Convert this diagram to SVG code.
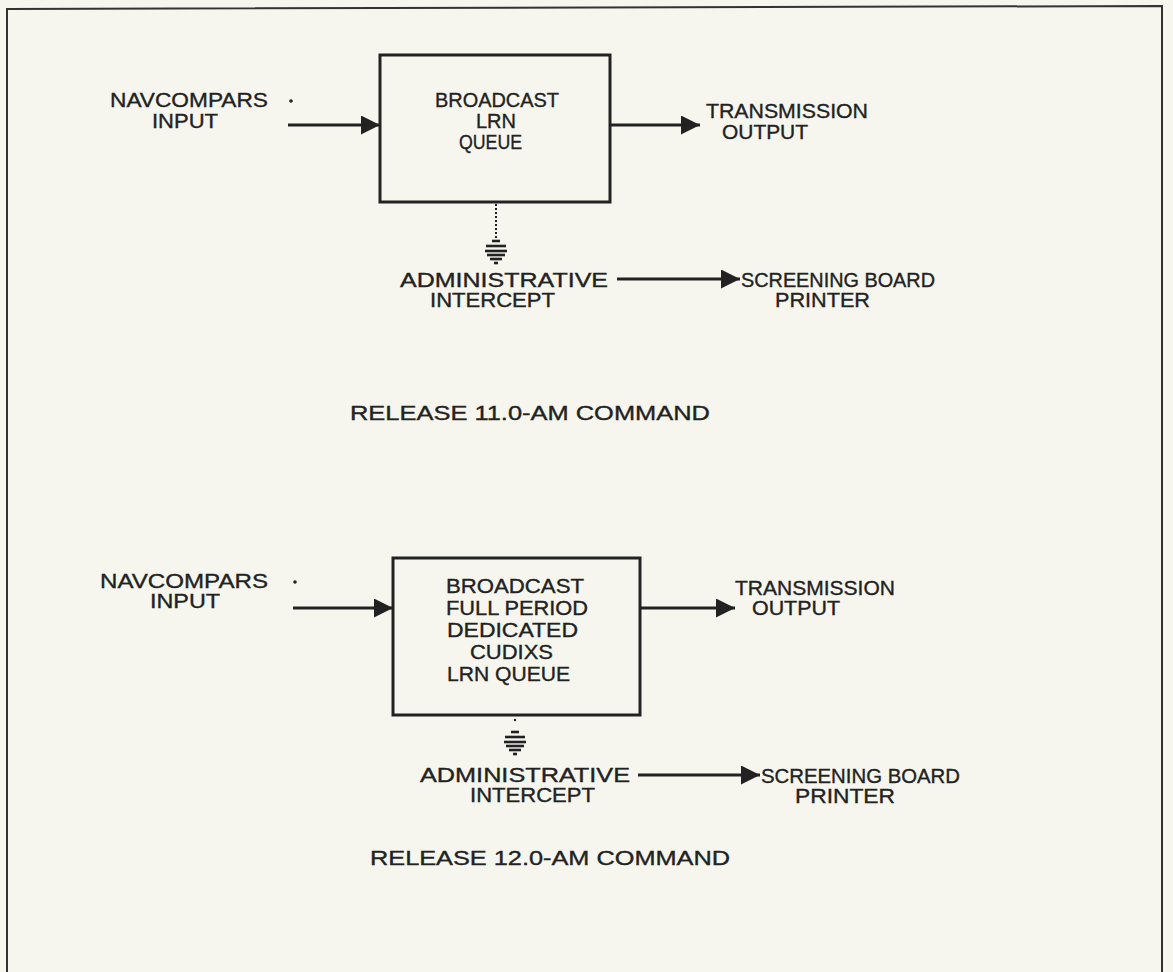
<svg xmlns="http://www.w3.org/2000/svg" width="1173" height="972" viewBox="0 0 1173 972">
<defs>
<style>
text{font-family:"Liberation Sans",Arial,Helvetica,sans-serif;font-size:20px;fill:#222;stroke:#222;stroke-width:0.35;}
.box{fill:none;stroke:#222;stroke-width:3;}
.ln{stroke:#222;stroke-width:2.8;fill:none;}
.gnd{stroke:#222;stroke-width:2.6;}
</style>
<marker id="ahL" viewBox="0 0 10 10" refX="10" refY="5" markerWidth="24" markerHeight="19" markerUnits="userSpaceOnUse" orient="auto">
<path d="M0,0 L10,5 L0,10 z" fill="#222"/>
</marker>
</defs>
<rect x="0" y="0" width="1173" height="972" fill="#f6f6ee"/>
<path d="M7,972 L7,9 L1162,6 L1162,972" fill="none" stroke="#333" stroke-width="2"/>

<g id="connectors">
<line class="ln" x1="288" y1="125" x2="380" y2="125" marker-end="url(#ahL)"/>
<line class="ln" x1="611" y1="125" x2="700" y2="125" marker-end="url(#ahL)"/>
<line x1="496" y1="204" x2="496" y2="238" stroke="#222" stroke-width="2" stroke-dasharray="2,2"/>
<line class="ln" x1="617" y1="279" x2="740" y2="279" marker-end="url(#ahL)"/>
<line class="ln" x1="293" y1="608" x2="393" y2="608" marker-end="url(#ahL)"/>
<line class="ln" x1="641" y1="608" x2="735" y2="608" marker-end="url(#ahL)"/>
<line class="ln" x1="638" y1="775" x2="760" y2="775" marker-end="url(#ahL)"/>
</g>

<g id="gnd1" transform="translate(496,238)">
<line class="gnd" x1="-4" y1="3" x2="4" y2="3"/>
<line class="gnd" x1="-10" y1="8" x2="10" y2="8"/>
<line class="gnd" x1="-11" y1="13" x2="11" y2="13"/>
<line class="gnd" x1="-9" y1="17" x2="9" y2="17"/>
<line class="gnd" x1="-6" y1="21" x2="6" y2="21"/>
<line class="gnd" x1="-2" y1="25" x2="2" y2="25"/>
</g>
<g id="gnd2" transform="translate(515,729)">
<line class="gnd" x1="-4" y1="3" x2="4" y2="3"/>
<line class="gnd" x1="-10" y1="8" x2="10" y2="8"/>
<line class="gnd" x1="-11" y1="13" x2="11" y2="13"/>
<line class="gnd" x1="-9" y1="17" x2="9" y2="17"/>
<line class="gnd" x1="-6" y1="21" x2="6" y2="21"/>
<line class="gnd" x1="-2" y1="25" x2="2" y2="25"/>
<circle cx="0" cy="-9" r="1.2" fill="#222"/>
</g>

<g id="nav1">
<text x="110" y="107" textLength="158" lengthAdjust="spacingAndGlyphs">NAVCOMPARS</text>
<circle cx="291" cy="101" r="1.8" fill="#222"/>
<text x="152" y="128" textLength="66" lengthAdjust="spacingAndGlyphs">INPUT</text>
</g>
<g id="box1">
<rect class="box" x="380" y="55" width="230" height="147"/>
<text x="435" y="107" textLength="124" lengthAdjust="spacingAndGlyphs">BROADCAST</text>
<text x="476" y="128" textLength="40" lengthAdjust="spacingAndGlyphs">LRN</text>
<text x="459" y="149" textLength="63" lengthAdjust="spacingAndGlyphs">QUEUE</text>
</g>
<g id="out1">
<text x="706" y="118" textLength="162" lengthAdjust="spacingAndGlyphs">TRANSMISSION</text>
<text x="722" y="139" textLength="86" lengthAdjust="spacingAndGlyphs">OUTPUT</text>
</g>
<g id="admin1">
<text x="400" y="287" textLength="208" lengthAdjust="spacingAndGlyphs">ADMINISTRATIVE</text>
<text x="430" y="307" textLength="125" lengthAdjust="spacingAndGlyphs">INTERCEPT</text>
</g>
<g id="screen1">
<text x="741" y="287" textLength="194" lengthAdjust="spacingAndGlyphs">SCREENING BOARD</text>
<text x="775" y="307" textLength="95" lengthAdjust="spacingAndGlyphs">PRINTER</text>
</g>
<g id="title1">
<text x="350" y="420" textLength="360" lengthAdjust="spacingAndGlyphs">RELEASE 11.0-AM COMMAND</text>
</g>

<g id="nav2">
<text x="100" y="588" textLength="168" lengthAdjust="spacingAndGlyphs">NAVCOMPARS</text>
<circle cx="295" cy="582" r="1.8" fill="#222"/>
<text x="150" y="608" textLength="70" lengthAdjust="spacingAndGlyphs">INPUT</text>
</g>
<g id="box2">
<rect class="box" x="393" y="558" width="247" height="157"/>
<text x="446" y="593" textLength="138" lengthAdjust="spacingAndGlyphs">BROADCAST</text>
<text x="446" y="615" textLength="142" lengthAdjust="spacingAndGlyphs">FULL PERIOD</text>
<text x="447" y="637" textLength="131" lengthAdjust="spacingAndGlyphs">DEDICATED</text>
<text x="470" y="659" textLength="83" lengthAdjust="spacingAndGlyphs">CUDIXS</text>
<text x="447" y="681" textLength="123" lengthAdjust="spacingAndGlyphs">LRN QUEUE</text>
</g>
<g id="out2">
<text x="735" y="595" textLength="160" lengthAdjust="spacingAndGlyphs">TRANSMISSION</text>
<text x="752" y="615" textLength="88" lengthAdjust="spacingAndGlyphs">OUTPUT</text>
</g>
<g id="admin2">
<text x="420" y="782" textLength="210" lengthAdjust="spacingAndGlyphs">ADMINISTRATIVE</text>
<text x="470" y="802" textLength="125" lengthAdjust="spacingAndGlyphs">INTERCEPT</text>
</g>
<g id="screen2">
<text x="761" y="783" textLength="199" lengthAdjust="spacingAndGlyphs">SCREENING BOARD</text>
<text x="795" y="803" textLength="100" lengthAdjust="spacingAndGlyphs">PRINTER</text>
</g>
<g id="title2">
<text x="370" y="865" textLength="360" lengthAdjust="spacingAndGlyphs">RELEASE 12.0-AM COMMAND</text>
</g>
</svg>
